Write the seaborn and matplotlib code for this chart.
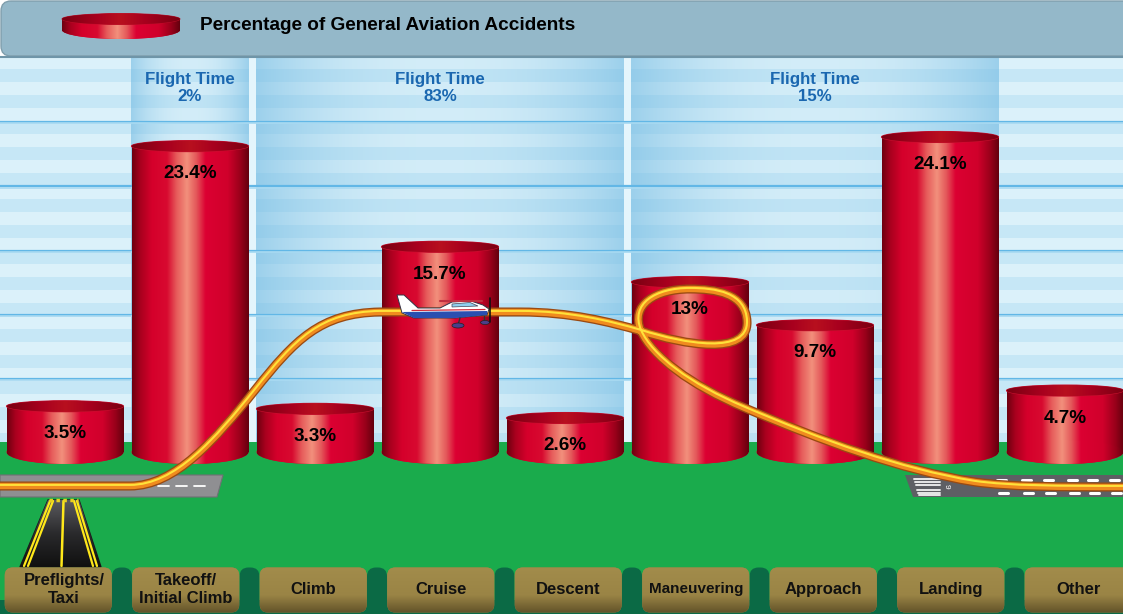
import numpy as np
import pandas as pd
import matplotlib
matplotlib.use("Agg")
import matplotlib.pyplot as plt
import seaborn as sns
from matplotlib.patches import Ellipse, Rectangle, FancyBboxPatch, Polygon, PathPatch
from matplotlib.path import Path
from matplotlib.colors import LinearSegmentedColormap
from matplotlib import transforms

# ---------------- data ----------------
categories = ["Preflights/\nTaxi", "Takeoff/\nInitial Climb", "Climb", "Cruise", "Descent",
              "Maneuvering", "Approach", "Landing", "Other"]
accident_pct = [3.5, 23.4, 3.3, 15.7, 2.6, 13, 9.7, 24.1, 4.7]
phase_labels = ["Flight Time\n2%", "Flight Time\n83%", "Flight Time\n15%"]
phase_first = [1, 2, 5]
phase_last = [1, 4, 7]
legend_label = "Percentage of General Aviation Accidents"

# ---------------- setup ----------------
sns.set_theme(style="white")
plt.rcParams["font.family"] = ["Liberation Sans", "DejaVu Sans"]

W, H = 1123, 614
fig = plt.figure(figsize=(W / 100, H / 100), dpi=100)
fig.patch.set_facecolor("white")

bg = fig.add_axes([0, 0, 1, 1], zorder=0)
ax = fig.add_axes([0, 0, 1, 1], zorder=1)
fg = fig.add_axes([0, 0, 1, 1], zorder=2)
for a in (bg, fg):
    a.set_xlim(0, W)
    a.set_ylim(H, 0)
    a.axis("off")
ax.patch.set_alpha(0)
fg.patch.set_alpha(0)

XL = (-0.52, 8.464)
YL = (-12.395, 34.58)
ax.set_xlim(*XL)
ax.set_ylim(*YL)


def to_px(x, y):
    d = ax.transData.transform((x, y))
    return bg.transData.inverted().transform(d)


# ---------------- background ----------------
sky_top, sky_bot = 57, 442
y = 56
k = 0
while y < sky_bot:
    bg.add_patch(Rectangle((0, y), W, 13, fc="#dbf1fa" if k % 2 == 0 else "#c6e7f6", ec="none", zorder=0))
    y += 13
    k += 1
band_alpha = lambda t: 0.08 + 0.52 * np.abs(2 * t - 1) ** 2.2
for lab, f, l in zip(phase_labels, phase_first, phase_last):
    x0 = to_px(f - 0.5, 0)[0]
    x1 = to_px(l + 0.5, 0)[0]
    t = np.linspace(0, 1, 200)
    img = np.zeros((1, 200, 4))
    img[..., 0] = 0.45
    img[..., 1] = 0.73
    img[..., 2] = 0.89
    img[..., 3] = band_alpha(t)
    bg.imshow(img, extent=(x0 + 3.5, x1 - 3.5, sky_bot, sky_top), aspect="auto", zorder=1)
    cx = (x0 + x1) / 2
    bg.text(cx, 88, lab, ha="center", va="center", fontsize=12.2, fontweight="bold",
            color="#1a67b0", linespacing=1.15, zorder=5)
for b in [2, 5]:
    gx = to_px(b - 0.5, 0)[0]
    bg.add_patch(Rectangle((gx - 3.5, sky_top), 7, sky_bot - sky_top, fc="#e4f5fc", ec="none", zorder=1.5))
for yy in [121.5, 186, 250.5, 314.5, 378.5]:
    bg.plot([0, W], [yy, yy], color="#62b7e6", lw=1.6, zorder=2)
    bg.plot([0, W], [yy + 1.8, yy + 1.8], color="#a9daf2", lw=1.2, zorder=2)

# header
bg.add_patch(FancyBboxPatch((1, 1), W + 40, 55, boxstyle="round,pad=0,rounding_size=10",
                            fc="#94b8c9", ec="#7f9eac", lw=1.0, zorder=3))
bg.plot([0, W], [57, 57], color="#6f95a8", lw=1.5, zorder=3.1)

# ground
bg.add_patch(Rectangle((0, sky_bot), W, H - sky_bot, fc="#1aab4c", ec="none", zorder=3))

# left runway + taxiway
bg.add_patch(Polygon([(0, 475), (223, 475), (217, 497), (0, 497)], closed=True,
                     fc="#8f8f92", ec="#707074", lw=0.8, zorder=4))
for xd in range(140, 212, 18):
    bg.plot([xd, xd + 11], [486, 486], color="white", lw=1.3, zorder=4.1)
tax_grad = LinearSegmentedColormap.from_list("tx", ["#5a5a5e", "#2a2a2c", "#101010"])
taxi = Polygon([(48, 500), (79, 500), (101, 567), (20, 567)], closed=True, fc="#2a2a2c", ec="#1a1a1a", zorder=4)
bg.add_patch(taxi)
im = bg.imshow(np.linspace(0, 1, 64)[:, None], extent=(18, 104, 567, 500), aspect="auto",
               cmap=tax_grad, zorder=4.05)
im.set_clip_path(taxi)
for (xa, xb) in [(50, 24), (53, 28), (77, 97), (74, 93)]:
    bg.plot([xa, xb], [501, 566], color="#ffe81a", lw=1.6, zorder=4.2)
bg.plot([63.5, 61.5], [501, 566], color="#ffe81a", lw=1.8, zorder=4.2)
bg.plot([49, 78], [500, 500], color="#e8d020", lw=2.5, ls=(0, (1, 1)), zorder=4.2)

# right runway
bg.add_patch(Polygon([(905, 475), (W, 475), (W, 497), (913, 497)], closed=True,
                     fc="#5e5f64", ec="none", zorder=4))
for yy in [478.5, 481.5, 484.5, 489.5, 492.5, 495]:
    bg.plot([913 + (yy - 475) * 0.3, 940], [yy, yy], color="#e8e8e8", lw=1.4, zorder=4.1)
bg.text(946, 486, "9", rotation=-90, fontsize=6, color="white", ha="center", va="center", zorder=4.1)
for xd in [997, 1022, 1044, 1068, 1088, 1110]:
    bg.plot([xd, xd + 9], [479.5, 479.5], color="white", lw=2.2, zorder=4.1)
    bg.plot([xd + 2, xd + 11], [493, 493], color="white", lw=2.2, zorder=4.1)

# ---------------- bars (cylinders) ----------------
df = pd.DataFrame({"phase": categories, "pct": accident_pct})
sns.barplot(data=df, x="phase", y="pct", order=categories, width=0.936, color="#d4002a",
            ax=ax, zorder=2, saturation=1)
ax.set_xlim(*XL)
ax.set_ylim(*YL)
ax.axis("off")

side_cmap = LinearSegmentedColormap.from_list("side", [
    (0.0, "#6e0010"), (0.07, "#a8001e"), (0.17, "#d5002b"), (0.30, "#d80a30"),
    (0.38, "#e65a5a"), (0.47, "#f2907c"), (0.55, "#e4585a"), (0.63, "#dc0032"),
    (0.82, "#d0002b"), (0.93, "#98001a"), (1.0, "#64000e")])
top_cmap = LinearSegmentedColormap.from_list("top", [
    (0.0, "#7a0012"), (0.3, "#a8001e"), (0.5, "#b8101f"), (0.7, "#a8001e"), (1.0, "#7a0012")])

px_per_unit = 13.07
top_h = 11 / px_per_unit
bot_h = 24 / px_per_unit
for i, (bar, v) in enumerate(zip(ax.patches, accident_pct)):
    x0 = bar.get_x()
    w = bar.get_width()
    cx = x0 + w / 2
    bar.set_edgecolor("none")
    ext = (x0, x0 + w, -bot_h, v)
    g1 = ax.imshow(np.linspace(0, 1, 256)[None, :], extent=ext, aspect="auto", cmap=side_cmap, zorder=2.1)
    g1.set_clip_path(bar)
    be = Ellipse((cx, 0), w, bot_h, fc="#d4002a", ec="none", zorder=2.05)
    ax.add_patch(be)
    g2 = ax.imshow(np.linspace(0, 1, 256)[None, :], extent=ext, aspect="auto", cmap=side_cmap, zorder=2.1)
    g2.set_clip_path(be)
    te = Ellipse((cx, v), w, top_h, fc="#a8001e", ec="#c8102e", lw=0.8, zorder=2.3)
    ax.add_patch(te)
    g3 = ax.imshow(np.linspace(0, 1, 256)[None, :], extent=(x0, x0 + w, v - top_h, v + top_h),
                   aspect="auto", cmap=top_cmap, zorder=2.35)
    g3.set_clip_path(te)
    ax.text(cx, v - 2.1, f"{v:g}%", ha="center", va="center", fontsize=13.6,
            fontweight="bold", color="black", zorder=5)
ax.set_xlim(*XL)
ax.set_ylim(*YL)

# ---------------- legend (header) ----------------
lx0, lx1 = 62, 180
body = Rectangle((lx0, 19), lx1 - lx0, 12, fc="#d4002a", ec="none", zorder=6)
lbot = Ellipse(((lx0 + lx1) / 2, 30), lx1 - lx0, 18, fc="#d4002a", ec="none", zorder=6)
ltop = Ellipse(((lx0 + lx1) / 2, 19), lx1 - lx0, 11, fc="#a8001e", ec="#c0102a", lw=0.6, zorder=6.2)
for p in (body, lbot):
    bg.add_patch(p)
    gi = bg.imshow(np.linspace(0, 1, 256)[None, :], extent=(lx0, lx1, 40, 10), aspect="auto",
                   cmap=side_cmap, zorder=6.1)
    gi.set_clip_path(p)
bg.add_patch(ltop)
gt = bg.imshow(np.linspace(0, 1, 256)[None, :], extent=(lx0, lx1, 25, 13), aspect="auto",
               cmap=top_cmap, zorder=6.3)
gt.set_clip_path(ltop)
bg.text(200, 26, legend_label, ha="left", va="center", fontsize=13.7, fontweight="bold",
        color="black", zorder=7)

# ---------------- category label band ----------------
band_top = 567
lab_c0, lab_step = 58.25, 127.5
bg.add_patch(Rectangle((0, 600), W, 20, fc="#0b6a45", ec="none", zorder=7))
tan_cmap = LinearSegmentedColormap.from_list("tan", [(0, "#a28c4b"), (0.6, "#9a8445"), (1, "#5f5028")])
for i, cat in enumerate(categories):
    cx = lab_c0 + lab_step * i
    if i < len(categories) - 1:
        sx = cx + lab_step / 2
        bg.add_patch(FancyBboxPatch((sx - 10, band_top + 0.5), 20, 60, boxstyle="round,pad=0,rounding_size=9",
                                    fc="#0b6a45", ec="none", zorder=7))
    bx0 = max(cx - 53.5, -10)
    bw = cx + 53.5 - bx0
    box = FancyBboxPatch((bx0, band_top + 0.5), bw, 45, boxstyle="round,pad=0,rounding_size=8",
                         fc="#9c8646", ec="none", zorder=8)
    bg.add_patch(box)
    gb = bg.imshow(np.linspace(0, 1, 64)[:, None], extent=(bx0 - 2, bx0 + bw + 2, 614, band_top),
                   aspect="auto", cmap=tan_cmap, zorder=8.1)
    gb.set_clip_path(box)
    fs = 11 if len(cat) > 10 and "\n" not in cat else 12
    bg.text(cx + (6 if i == 0 else 0), 589.5, cat, ha="center", va="center", fontsize=fs,
            fontweight="bold", color="#111111", linespacing=1.22, zorder=9)

bg.set_xlim(0, W)
bg.set_ylim(H, 0)

# ---------------- flight path ----------------
verts = [(0, 486), (130, 486),
         (175, 486), (215, 440), (255, 390),
         (295, 340), (320, 313), (380, 312),
         (520, 312),
         (570, 312), (610, 322), (641, 331),
         (685, 345), (748, 356), (747, 322),
         (746, 293), (715, 289), (690, 289),
         (655, 289), (630, 305), (641, 331),
         (652, 356), (690, 385), (745, 408),
         (820, 440), (900, 470), (975, 482),
         (1010, 487), (1060, 487), (W, 487)]
codes = [Path.MOVETO, Path.LINETO] + [Path.CURVE4] * 6 + [Path.LINETO] + [Path.CURVE4] * 21
fpath = Path(verts, codes)
fg.add_patch(PathPatch(fpath, fc="none", ec="#9a4a12", lw=6.5, capstyle="butt", zorder=3))
fg.add_patch(PathPatch(fpath, fc="none", ec="#f08b1e", lw=4.6, capstyle="butt", zorder=3.1))
hi = transforms.offset_copy(fg.transData, fig=fig, x=0, y=1.1, units="dots")
fg.add_patch(PathPatch(fpath, fc="none", ec="#ffe23a", lw=1.5, capstyle="butt", zorder=3.2, transform=hi))

# ---------------- airplane ----------------
fg.add_patch(Polygon([(397, 295), (404, 295), (418, 308), (440, 308), (452, 302), (471, 301),
                      (483, 305), (489, 309), (487, 315), (455, 318), (414, 318), (402, 313)],
                     closed=True, fc="white", ec="#333344", lw=0.7, zorder=4))
fg.add_patch(Polygon([(402, 312), (487, 311), (487, 315), (455, 318), (414, 318)],
                     closed=True, fc="#2a4fb0", ec="none", zorder=4.1))
fg.plot([412, 485], [310.5, 309.5], color="#d42a3a", lw=0.9, zorder=4.15)
fg.add_patch(Polygon([(452, 304), (470, 302.5), (478, 306), (452, 307)], closed=True,
                     fc="#8fd0ee", ec="#445", lw=0.5, zorder=4.2))
fg.plot([440, 482], [301, 301], color="#c03040", lw=1.5, zorder=4.2)
fg.plot([460, 458], [318, 325], color="#333", lw=1, zorder=4.2)
fg.plot([484, 484], [316, 322], color="#333", lw=1, zorder=4.2)
fg.add_patch(Ellipse((458, 325.5), 12, 5, fc="#4a3f8a", ec="#222", lw=0.5, zorder=4.3))
fg.add_patch(Ellipse((485, 322.5), 9, 4, fc="#4a3f8a", ec="#222", lw=0.5, zorder=4.3))
fg.plot([490, 490], [298, 322], color="#111", lw=1.2, zorder=4.3)

fg.set_xlim(0, W)
fg.set_ylim(H, 0)

fig.savefig("out.png", dpi=100)
